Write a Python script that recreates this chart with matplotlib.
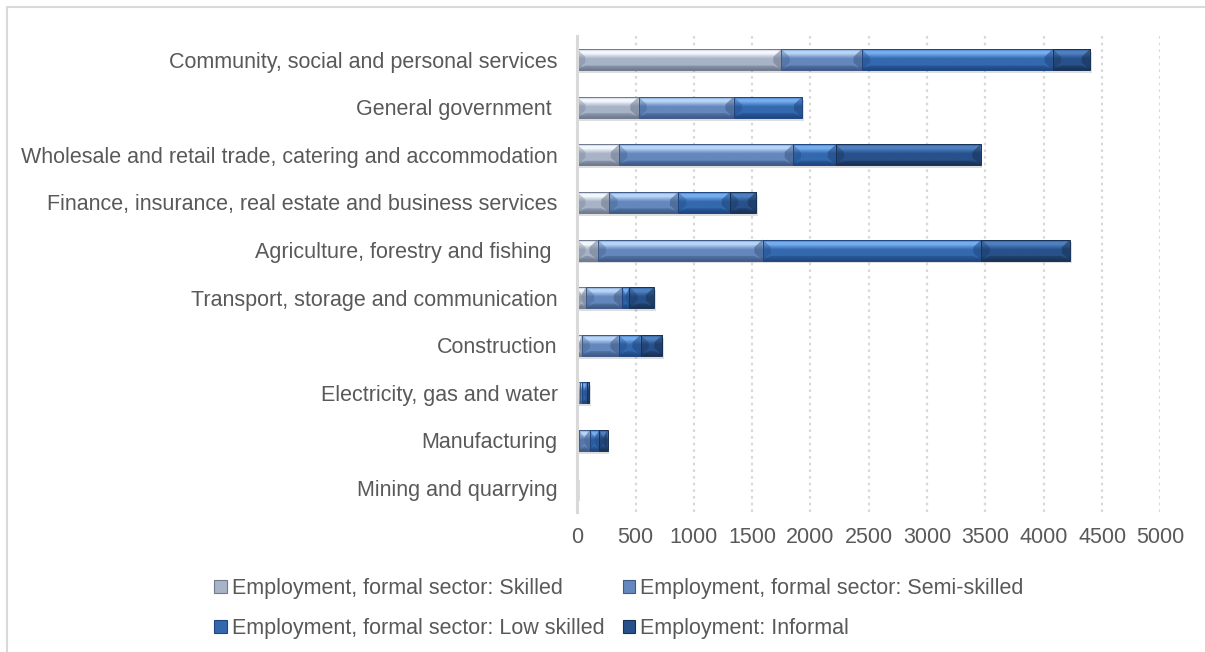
import matplotlib

matplotlib.use("Agg")
import matplotlib.pyplot as plt
import numpy as np
from matplotlib.colors import LinearSegmentedColormap
from matplotlib.patches import Patch, Rectangle


# bottom-to-top order
sectors = [
    "Mining and quarrying",
    "Manufacturing",
    "Electricity, gas and water",
    "Construction",
    "Transport, storage and communication",
    "Agriculture, forestry and fishing ",
    "Finance, insurance, real estate and business services",
    "Wholesale and retail trade, catering and accommodation",
    "General government ",
    "Community, social and personal services",
]
skilled = [2, 15, 20, 38, 75, 175, 276, 358, 526, 1751]
semi_skilled = [3, 93, 25, 317, 309, 1414, 590, 1491, 815, 688]
low_skilled = [3, 81, 35, 188, 64, 1877, 443, 369, 588, 1638]
informal = [2, 71, 22, 188, 211, 759, 224, 1240, 0, 319]

series_names = [
    "Employment, formal sector: Skilled",
    "Employment, formal sector: Semi-skilled",
    "Employment, formal sector: Low skilled",
    "Employment: Informal",
]
xticks = [0, 500, 1000, 1500, 2000, 2500, 3000, 3500, 4000, 4500, 5000]

# (dark edge, mid, highlight) per series
shades = [
    ("#6f7a8e", "#a8b3c7", "#f4f8fe"),
    ("#3f5a86", "#6487bd", "#b9d6f7"),
    ("#1f4680", "#3369ae", "#77aef0"),
    ("#183254", "#28508a", "#4f82c2"),
]
base_colors = ["#a8b3c7", "#6388be", "#3368ad", "#28508a"]

TEXT = "#595959"
GRID = "#d9d9d9"
FS = 15.5

plt.rcParams["font.family"] = ["Liberation Sans", "DejaVu Sans"]

fig = plt.figure(figsize=(12.05, 6.52), dpi=100)
ax = fig.add_axes([0.479, 0.215, 0.484, 0.730])

y = np.arange(len(sectors))
h = 0.44
data = [skilled, semi_skilled, low_skilled, informal]
left = np.zeros(len(sectors))
grad = np.linspace(0, 1, 64).reshape(-1, 1)
dx, dy = 70.0, 0.16

totals = np.sum(data, axis=0)
# soft drop shadow
ax.barh(y - 0.06, totals, height=h, left=15, color="#000000", alpha=0.13,
        zorder=1, linewidth=0)

for vals, (dark, mid, light), col in zip(data, shades, base_colors):
    vals = np.asarray(vals, dtype=float)
    bars = ax.barh(y, vals, height=h, left=left, color=col, zorder=2, linewidth=0)
    cmap = LinearSegmentedColormap.from_list(
        "b", [(0, dark), (0.2, mid), (0.55, mid), (0.8, light), (0.9, light), (1, mid)])
    for bar in bars:
        w = bar.get_width()
        if w <= 0:
            continue
        x0, y0 = bar.get_x(), bar.get_y()
        x1, y1 = x0 + w, y0 + bar.get_height()
        im = ax.imshow(grad, cmap=cmap, aspect="auto", origin="lower",
                       extent=(x0, x1, y0, y1), zorder=3, interpolation="bilinear")
        im.set_clip_path(bar)
        d = min(dx, w / 2)
        # slanted bevel ends
        ax.fill([x0, x0, x0 + d, x0 + d], [y0, y1, y1 - dy, y0 + dy],
                color=dark, alpha=0.35, zorder=4, linewidth=0)
        ax.fill([x1, x1, x1 - d, x1 - d], [y0, y1, y1 - dy, y0 + dy],
                color=dark, alpha=0.55, zorder=4, linewidth=0)
        ax.fill([x0, x1, x1 - d, x0 + d], [y0, y0, y0 + dy * 0.6, y0 + dy * 0.6],
                color=dark, alpha=0.5, zorder=4, linewidth=0)
        ax.add_patch(Rectangle((x0, y0), w, bar.get_height(), fill=False,
                               edgecolor=dark, linewidth=0.7, zorder=5))
    left += vals

ax.set_xlim(0, 5000)
ax.set_ylim(-0.5, len(sectors) - 0.5)
ax.set_xticks(xticks)
ax.set_xticklabels([str(t) for t in xticks])
ax.set_yticks(y)
ax.set_yticklabels(sectors)
ax.tick_params(axis="both", length=0, labelsize=FS, colors=TEXT)
ax.tick_params(axis="x", pad=11)
ax.tick_params(axis="y", pad=14)

ax.grid(axis="x", color=GRID, linestyle=(0, (1.2, 1.8)), linewidth=1.6, zorder=0)
ax.set_axisbelow(True)
for side in ["top", "right", "bottom"]:
    ax.spines[side].set_visible(False)
ax.spines["left"].set_color(GRID)
ax.spines["left"].set_linewidth(2.2)
ax.spines["left"].set_zorder(6)

handles = [Patch(facecolor=c, edgecolor=s[0], linewidth=0.8)
           for c, s in zip(base_colors, shades)]
# matplotlib fills legend columns first, so reorder to read row by row
order = [0, 2, 1, 3]
fig.legend([handles[i] for i in order], [series_names[i] for i in order],
           loc="upper left", bbox_to_anchor=(0.178, 0.113),
           ncol=2, frameon=False, fontsize=FS, labelcolor=TEXT,
           handlelength=0.56, handleheight=0.56, handletextpad=0.25,
           columnspacing=0.85, labelspacing=0.88, borderpad=0, borderaxespad=0)

# outer chart frame
fig.patches.append(Rectangle((7 / 1205, -0.02), 1.1, 1 - 7 / 652 + 0.02,
                             transform=fig.transFigure, fill=False,
                             edgecolor=GRID, linewidth=1.5))

fig.savefig("out.png", dpi=100)
